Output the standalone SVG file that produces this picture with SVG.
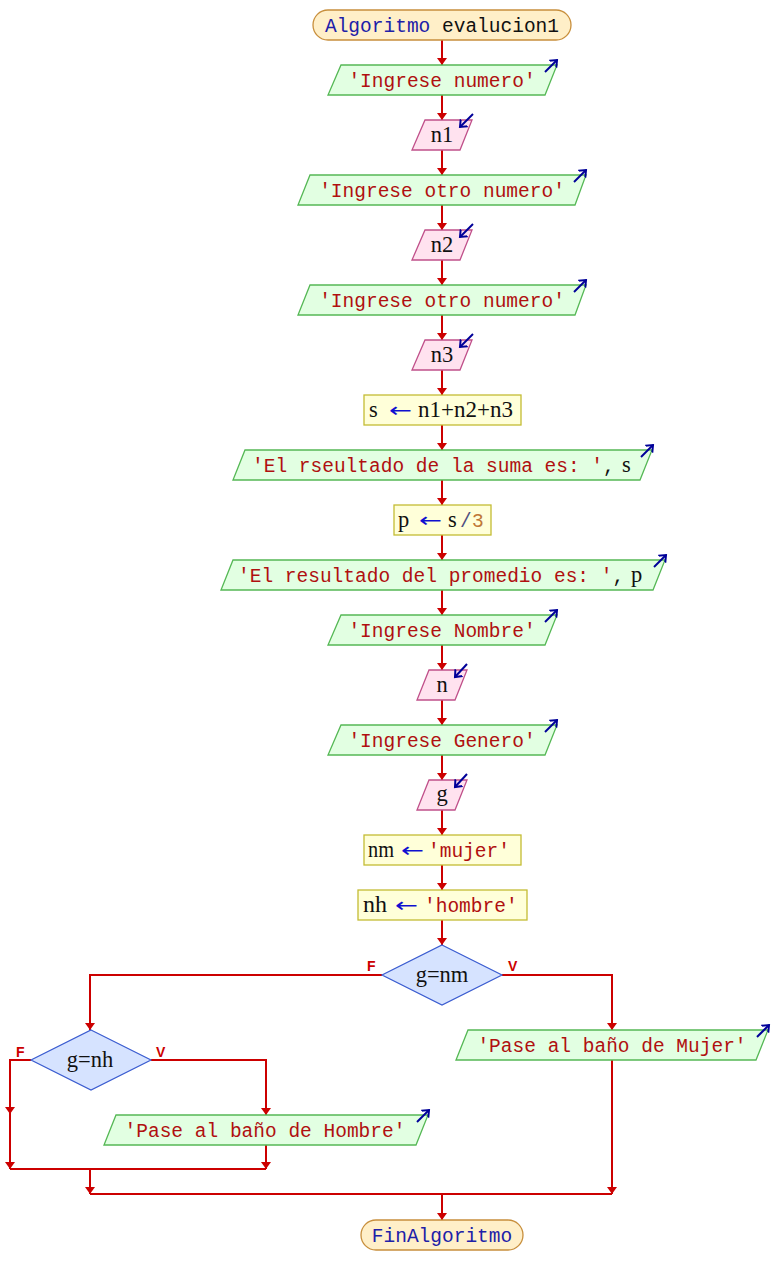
<svg xmlns="http://www.w3.org/2000/svg" width="772" height="1285" viewBox="0 0 772 1285">
  <style>
    .term { fill: #ffefc8; stroke: #c88f3c; stroke-width: 1.3; }
    .out  { fill: #e2ffe2; stroke: #55b855; stroke-width: 1.3; }
    .inp  { fill: #ffe2ef; stroke: #c0508a; stroke-width: 1.3; }
    .proc { fill: #ffffd9; stroke: #c4bc34; stroke-width: 1.3; }
    .dec  { fill: #d6e3ff; stroke: #3a5cd0; stroke-width: 1.2; }
    .mono { font-family: "Liberation Mono", "Courier New", monospace; font-size: 19.5px; }
    .ser  { font-family: "Liberation Serif", "Times New Roman", serif; font-size: 22.5px; fill: #111; }
    .str  { fill: #b01010; }
    .kw   { fill: #2020a8; }
    .var  { fill: #111; }
    .asg  { fill: #1010d0; font-family: "DejaVu Sans", sans-serif; font-size: 20px; }
    .num  { fill: #c07838; }
    .op   { fill: #505080; }
    .lbl  { font-family: "Liberation Sans", Arial, sans-serif; font-size: 14px; font-weight: bold; fill: #cc0000; }
    .flow { fill: none; stroke: #cc0000; stroke-width: 2; }
    .io   { fill: none; stroke: #000099; stroke-width: 2; }
  </style>
  <defs>
    <marker id="ah" markerUnits="userSpaceOnUse" markerWidth="12" markerHeight="12" refX="7" refY="5" orient="auto">
      <path d="M0,0 L7,5 L0,10 z" fill="#cc0000"/>
    </marker>
    <marker id="ioh" markerUnits="userSpaceOnUse" markerWidth="12" markerHeight="12" refX="6" refY="6" orient="auto">
      <path d="M0,1 L6,6 L0,11" fill="none" stroke="#000099" stroke-width="2"/>
    </marker>
  </defs>

  <!-- connectors -->
  <g id="connectors">
    <path class="flow" marker-end="url(#ah)" d="M442,40 V65"/>
    <path class="flow" marker-end="url(#ah)" d="M442,95 V120"/>
    <path class="flow" marker-end="url(#ah)" d="M442,150 V175"/>
    <path class="flow" marker-end="url(#ah)" d="M442,205 V230"/>
    <path class="flow" marker-end="url(#ah)" d="M442,260 V285"/>
    <path class="flow" marker-end="url(#ah)" d="M442,315 V340"/>
    <path class="flow" marker-end="url(#ah)" d="M442,370 V395"/>
    <path class="flow" marker-end="url(#ah)" d="M442,425 V450"/>
    <path class="flow" marker-end="url(#ah)" d="M442,480 V505"/>
    <path class="flow" marker-end="url(#ah)" d="M442,535 V560"/>
    <path class="flow" marker-end="url(#ah)" d="M442,590 V615"/>
    <path class="flow" marker-end="url(#ah)" d="M442,645 V670"/>
    <path class="flow" marker-end="url(#ah)" d="M442,700 V725"/>
    <path class="flow" marker-end="url(#ah)" d="M442,755 V780"/>
    <path class="flow" marker-end="url(#ah)" d="M442,810 V835"/>
    <path class="flow" marker-end="url(#ah)" d="M442,865 V890"/>
    <path class="flow" marker-end="url(#ah)" d="M442,920 V945"/>
    <!-- g=nm branches -->
    <path class="flow" marker-end="url(#ah)" d="M382,975 H90 V1030"/>
    <path class="flow" marker-end="url(#ah)" d="M502,975 H612 V1030"/>
    <path class="flow" marker-end="url(#ah)" d="M612,1060 V1194"/>
    <!-- g=nh branches -->
    <path class="flow" marker-end="url(#ah)" d="M31,1060 H10 V1114"/>
    <path class="flow" marker-end="url(#ah)" d="M10,1114 V1169"/>
    <path class="flow" marker-end="url(#ah)" d="M151,1060 H266 V1115"/>
    <path class="flow" marker-end="url(#ah)" d="M266,1145 V1169"/>
    <path class="flow" d="M10,1169 H266"/>
    <path class="flow" marker-end="url(#ah)" d="M90,1169 V1194"/>
    <path class="flow" d="M90,1194 H612"/>
    <path class="flow" marker-end="url(#ah)" d="M442,1194 V1220"/>
    <!-- branch labels -->
    <text class="lbl" x="367" y="971">F</text>
    <text class="lbl" x="508" y="971">V</text>
    <text class="lbl" x="16" y="1057">F</text>
    <text class="lbl" x="156" y="1057">V</text>
  </g>

  <g id="start">
    <rect class="term" x="313" y="10" width="258" height="30" rx="15"/>
    <text class="mono" x="442" y="32" text-anchor="middle"><tspan class="kw">Algoritmo</tspan><tspan class="var"> evalucion1</tspan></text>
  </g>

  <g id="out1">
    <polygon class="out" points="341,65 557,65 545,95 328,95"/>
    <text class="mono str" x="442" y="87" text-anchor="middle">'Ingrese numero'</text>
    <path class="io" marker-end="url(#ioh)" d="M545,72 L557,60"/>
  </g>

  <g id="in1">
    <polygon class="inp" points="425,120 472,120 460,150 412,150"/>
    <text class="ser" x="442" y="142" text-anchor="middle">n1</text>
    <path class="io" marker-end="url(#ioh)" d="M473,114 L460,127"/>
  </g>

  <g id="out2">
    <polygon class="out" points="310,175 586,175 575,205 298,205"/>
    <text class="mono str" x="442" y="197" text-anchor="middle">'Ingrese otro numero'</text>
    <path class="io" marker-end="url(#ioh)" d="M574,182 L586,170"/>
  </g>

  <g id="in2">
    <polygon class="inp" points="425,230 472,230 460,260 412,260"/>
    <text class="ser" x="442" y="252" text-anchor="middle">n2</text>
    <path class="io" marker-end="url(#ioh)" d="M473,224 L460,237"/>
  </g>

  <g id="out3">
    <polygon class="out" points="310,285 586,285 575,315 298,315"/>
    <text class="mono str" x="442" y="307" text-anchor="middle">'Ingrese otro numero'</text>
    <path class="io" marker-end="url(#ioh)" d="M574,292 L586,280"/>
  </g>

  <g id="in3">
    <polygon class="inp" points="425,340 472,340 460,370 412,370"/>
    <text class="ser" x="442" y="362" text-anchor="middle">n3</text>
    <path class="io" marker-end="url(#ioh)" d="M473,334 L460,347"/>
  </g>

  <g id="proc1">
    <rect class="proc" x="364" y="395" width="157" height="30"/>
    <text class="ser" y="417"><tspan x="369">s</tspan><tspan class="asg" x="389" textLength="23" lengthAdjust="spacingAndGlyphs">←</tspan><tspan x="418" textLength="95" lengthAdjust="spacingAndGlyphs">n1+n2+n3</tspan></text>
  </g>

  <g id="out4">
    <polygon class="out" points="245,450 652,450 640,480 233,480"/>
    <text class="mono" y="472"><tspan class="str" x="252">'El rseultado de la suma es: '</tspan><tspan class="var">,</tspan><tspan class="ser" x="622">s</tspan></text>
    <path class="io" marker-end="url(#ioh)" d="M641,457 L653,445"/>
  </g>

  <g id="proc2">
    <rect class="proc" x="394" y="505" width="97" height="30"/>
    <text class="ser" y="527"><tspan x="398">p</tspan><tspan class="asg" x="419" textLength="23" lengthAdjust="spacingAndGlyphs">←</tspan><tspan x="448">s</tspan><tspan class="mono op" x="460">/</tspan><tspan class="mono num" x="472">3</tspan></text>
  </g>

  <g id="out5">
    <polygon class="out" points="233,560 665,560 653,590 221,590"/>
    <text class="mono" y="582"><tspan class="str" x="238">'El resultado del promedio es: '</tspan><tspan class="var">,</tspan><tspan class="ser" x="631">p</tspan></text>
    <path class="io" marker-end="url(#ioh)" d="M654,567 L666,555"/>
  </g>

  <g id="out6">
    <polygon class="out" points="341,615 557,615 545,645 328,645"/>
    <text class="mono str" x="442" y="637" text-anchor="middle">'Ingrese Nombre'</text>
    <path class="io" marker-end="url(#ioh)" d="M545,622 L557,610"/>
  </g>

  <g id="in4">
    <polygon class="inp" points="429,670 467,670 455,700 417,700"/>
    <text class="ser" x="442" y="692" text-anchor="middle">n</text>
    <path class="io" marker-end="url(#ioh)" d="M467,664 L455,677"/>
  </g>

  <g id="out7">
    <polygon class="out" points="341,725 557,725 545,755 328,755"/>
    <text class="mono str" x="442" y="747" text-anchor="middle">'Ingrese Genero'</text>
    <path class="io" marker-end="url(#ioh)" d="M545,732 L557,720"/>
  </g>

  <g id="in5">
    <polygon class="inp" points="429,780 467,780 455,810 417,810"/>
    <text class="ser" x="442" y="801" text-anchor="middle">g</text>
    <path class="io" marker-end="url(#ioh)" d="M467,774 L455,787"/>
  </g>

  <g id="proc3">
    <rect class="proc" x="364" y="835" width="157" height="30"/>
    <text class="ser" y="857"><tspan x="368" textLength="26" lengthAdjust="spacingAndGlyphs">nm</tspan><tspan class="asg" x="401" textLength="23" lengthAdjust="spacingAndGlyphs">←</tspan><tspan class="mono str" x="428">'mujer'</tspan></text>
  </g>

  <g id="proc4">
    <rect class="proc" x="358" y="890" width="169" height="30"/>
    <text class="ser" y="912"><tspan x="363" textLength="24" lengthAdjust="spacingAndGlyphs">nh</tspan><tspan class="asg" x="395" textLength="23" lengthAdjust="spacingAndGlyphs">←</tspan><tspan class="mono str" x="424">'hombre'</tspan></text>
  </g>

  <g id="dec1">
    <polygon class="dec" points="442,945 502,975 442,1005 382,975"/>
    <text class="ser" x="442" y="982" text-anchor="middle">g=nm</text>
  </g>

  <g id="out8">
    <polygon class="out" points="468,1030 768,1030 756,1060 456,1060"/>
    <text class="mono str" x="612" y="1052" text-anchor="middle">'Pase al baño de Mujer'</text>
    <path class="io" marker-end="url(#ioh)" d="M757,1037 L769,1025"/>
  </g>

  <g id="dec2">
    <polygon class="dec" points="91,1030 151,1060 91,1090 31,1060"/>
    <text class="ser" x="90" y="1067" text-anchor="middle">g=nh</text>
  </g>

  <g id="out9">
    <polygon class="out" points="116,1115 428,1115 416,1145 104,1145"/>
    <text class="mono str" x="265" y="1137" text-anchor="middle">'Pase al baño de Hombre'</text>
    <path class="io" marker-end="url(#ioh)" d="M417,1122 L429,1110"/>
  </g>

  <g id="end">
    <rect class="term" x="361" y="1220" width="162" height="30" rx="15"/>
    <text class="mono kw" x="442" y="1242" text-anchor="middle">FinAlgoritmo</text>
  </g>
</svg>
